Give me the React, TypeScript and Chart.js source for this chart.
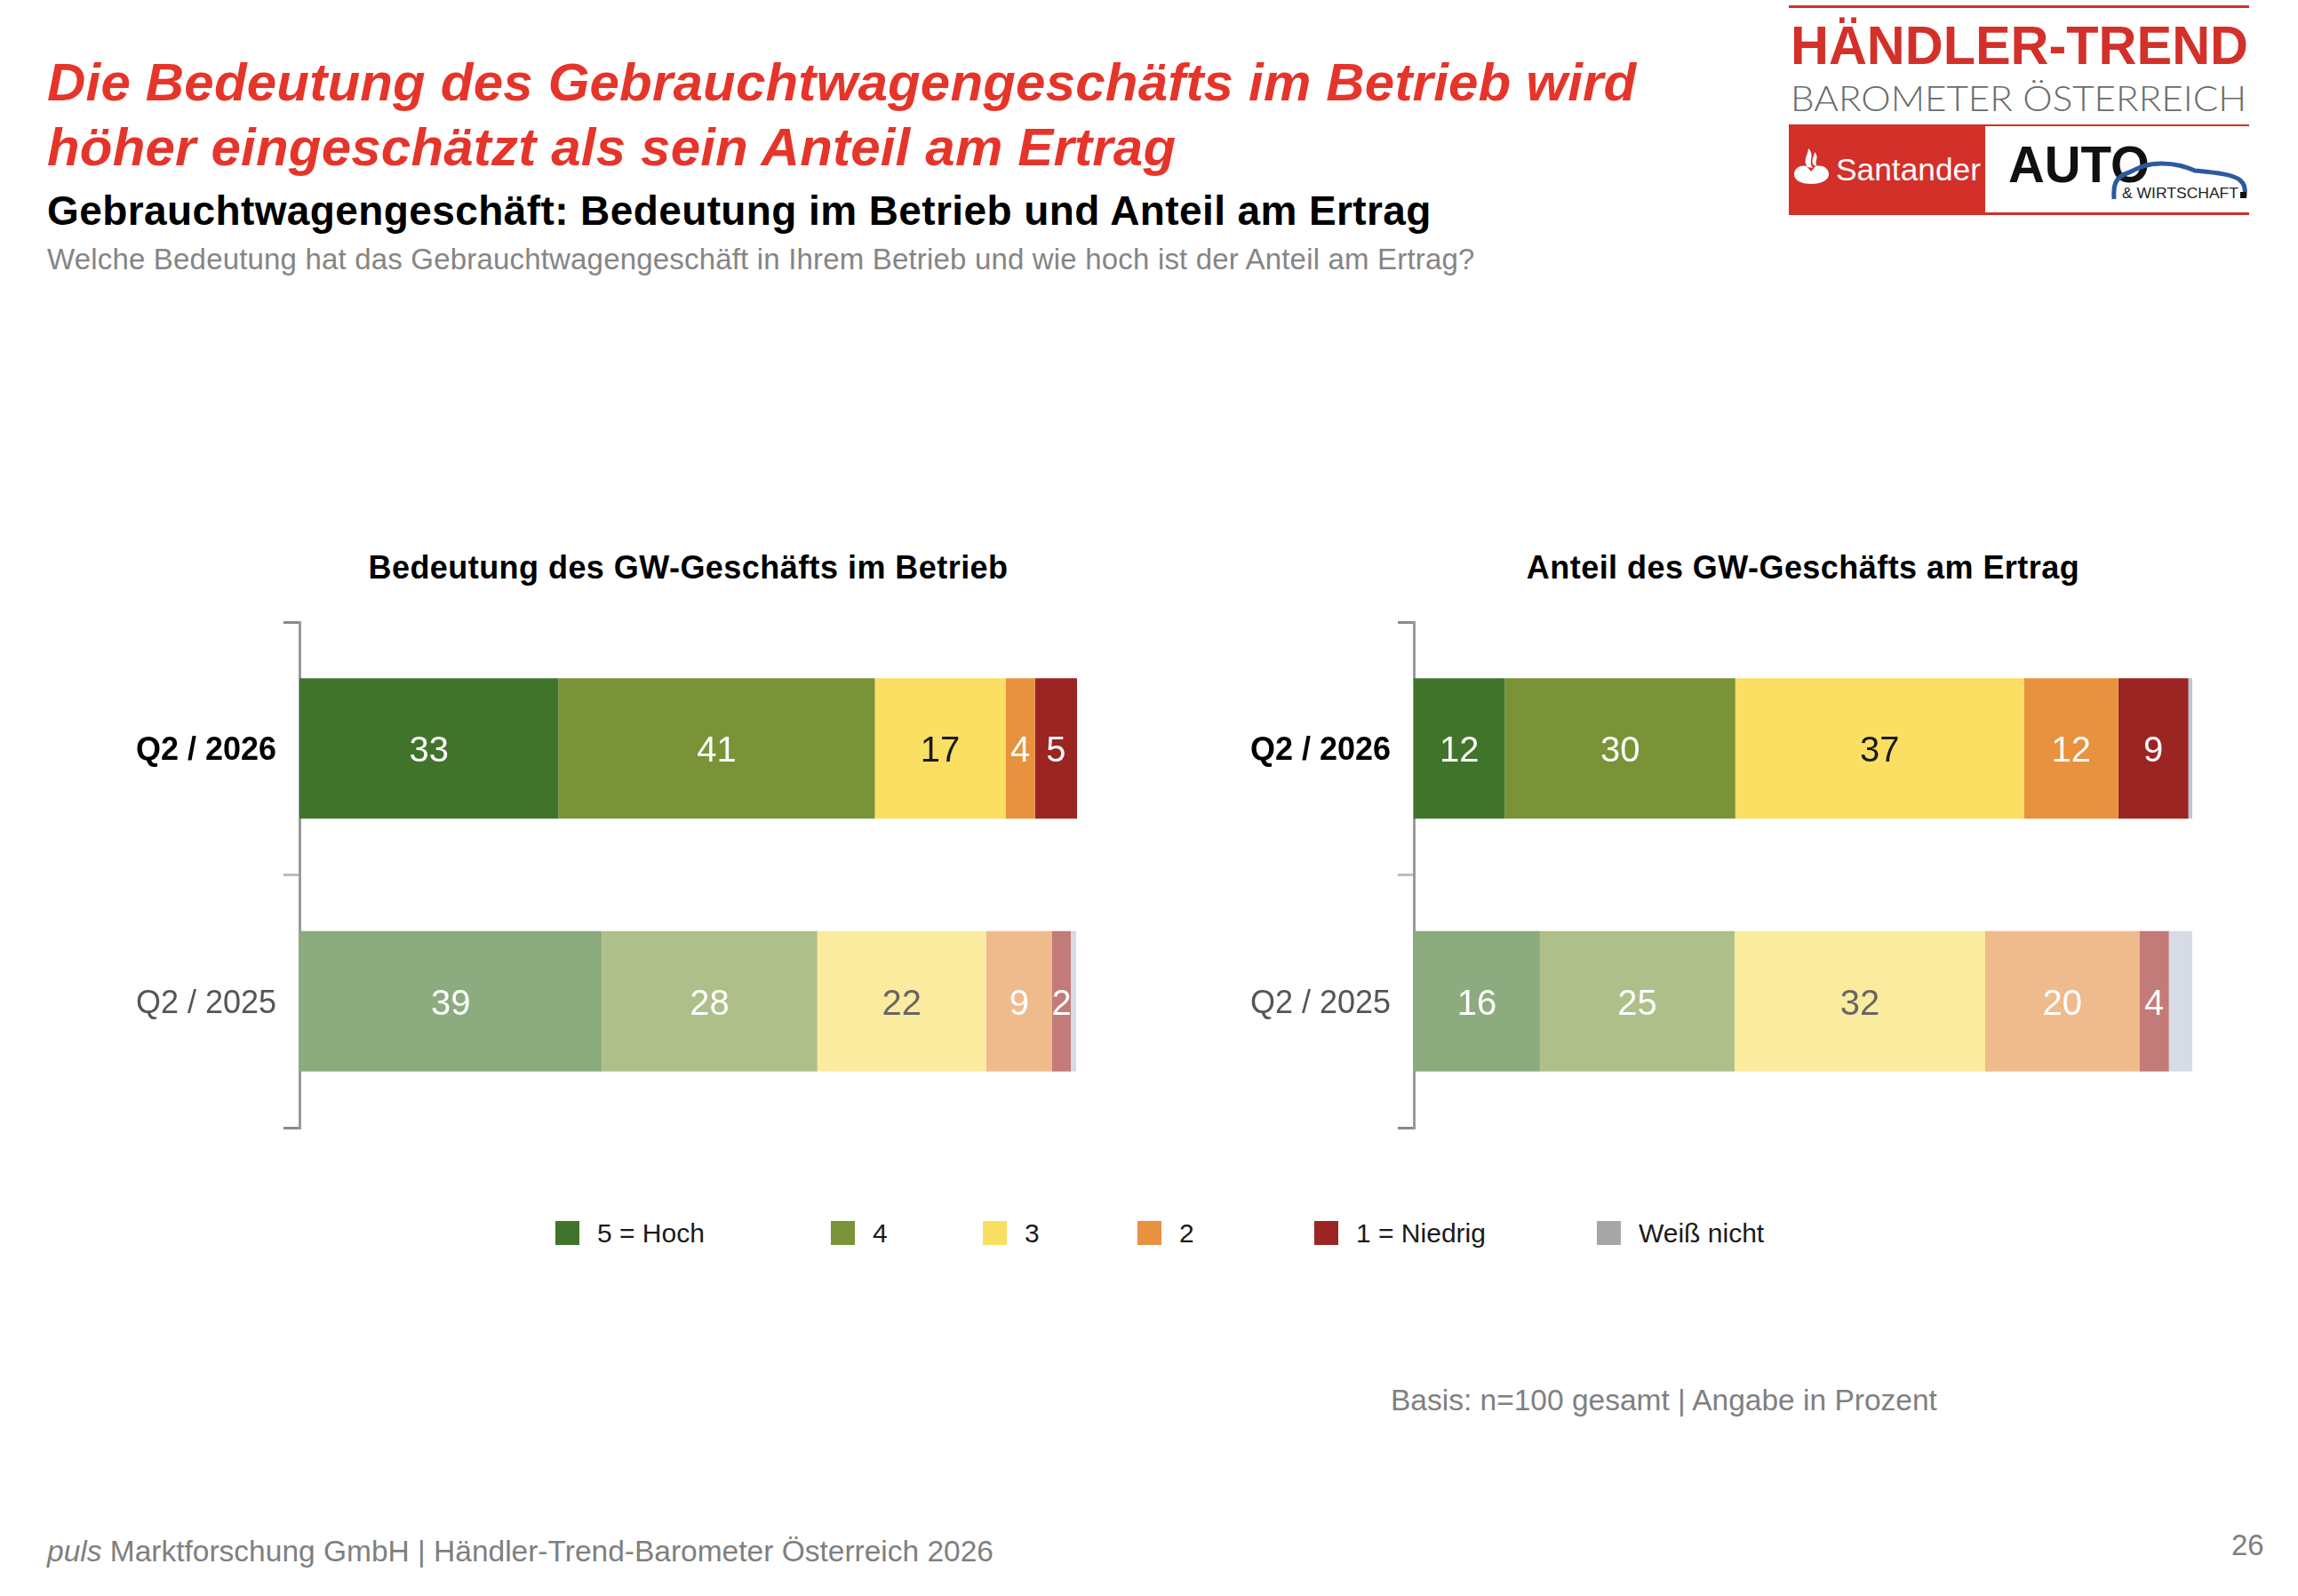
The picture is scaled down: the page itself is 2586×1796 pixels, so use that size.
import { useEffect, useRef } from 'react';
import { Chart, registerables } from 'chart.js';

Chart.register(...registerables);

const FONT = 'Arial, "Liberation Sans", Helvetica, sans-serif';

// categories and answer scale
const periods = ['Q2 / 2026', 'Q2 / 2025'];
const answers = ['5 = Hoch', '4', '3', '2', '1 = Niedrig', 'Weiß nicht'];

// Bedeutung des GW-Geschäfts im Betrieb (in %, order as answers)
const betrieb2026 = [33.3, 40.7, 16.8, 3.8, 5.4, 0];
const betrieb2025 = [38.9, 27.7, 21.7, 8.5, 2.4, 0.7];

// Anteil des GW-Geschäfts am Ertrag (in %)
const ertrag2026 = [11.7, 29.6, 37.1, 12.1, 9.0, 0.5];
const ertrag2025 = [16.2, 25.0, 32.2, 19.8, 3.8, 3.0];

// colours: current wave saturated, previous wave faded
const colors2026 = ['#41742b', '#7b9337', '#fadf63', '#e8913f', '#9b2522', '#bcc6db'];
const colors2025 = ['#8cab7e', '#afbf89', '#fbeb9f', '#efbb8c', '#c37b79', '#d6dbe6'];
const legendColors = ['#41742b', '#7b9337', '#fadf63', '#e8913f', '#9b2522', '#a6a6a6'];
const valueColors2026 = ['#ffffff', '#ffffff', '#1a1a1a', '#ffffff', '#ffffff', '#ffffff'];
const valueColors2025 = ['#ffffff', '#ffffff', '#666666', '#ffffff', '#ffffff', '#ffffff'];
const legendX = [625, 935, 1106, 1280, 1479, 1797];

// draws the rounded value in the middle of every segment
const segmentLabels = {
  id: 'segmentLabels',
  afterDatasetsDraw(chart: any) {
    const { ctx } = chart;
    ctx.save();
    ctx.font = `40px ${FONT}`;
    ctx.textAlign = 'center';
    ctx.textBaseline = 'middle';
    chart.data.datasets.forEach((ds: any, di: number) => {
      if (di === answers.length - 1) return; // no label for "Weiß nicht"
      chart.getDatasetMeta(di).data.forEach((bar: any, i: number) => {
        const v = ds.data[i];
        if (!v) return;
        ctx.fillStyle = ds.valueColors[i];
        ctx.fillText(String(Math.round(v)), (bar.x + bar.base) / 2, bar.y + 4);
      });
    });
    ctx.restore();
  },
};

interface PanelProps {
  left: number;
  axisX: number;
  endX: number;
  title: string;
  current: number[];
  previous: number[];
}

// plot area runs from y=700 to y=1269; 40px padding keeps the axis label padding out of it
const CANVAS_TOP = 660;
const CANVAS_H = 649;

function StackedPanel({ left, axisX, endX, title, current, previous }: PanelProps) {
  const canvasRef = useRef<HTMLCanvasElement>(null);
  const width = endX - left + 22;

  useEffect(() => {
    if (!canvasRef.current) return;
    const chart = new Chart(canvasRef.current, {
      type: 'bar',
      data: {
        labels: periods,
        datasets: answers.map((label, i) => ({
          label,
          data: [current[i], previous[i]],
          backgroundColor: [colors2026[i], colors2025[i]],
          valueColors: [valueColors2026[i], valueColors2025[i]],
          borderWidth: 0,
          barPercentage: 0.555,
          categoryPercentage: 1,
        })) as any,
      },
      options: {
        indexAxis: 'y',
        animation: false,
        responsive: false,
        devicePixelRatio: 1,
        layout: { padding: { top: 40, bottom: 40, left: 0, right: 22 } },
        plugins: {
          legend: { display: false },
          tooltip: { enabled: false },
        },
        scales: {
          x: { stacked: true, min: 0, max: 100, display: false },
          y: {
            stacked: true,
            offset: true,
            afterFit: (scale: any) => {
              scale.width = axisX - left;
            },
            grid: {
              offset: true,
              drawOnChartArea: false,
              tickLength: 18,
              lineWidth: 3,
              color: (ctx: any) => (ctx.index === 1 ? '#bdbdbd' : '#8a8a8a'),
            },
            border: { display: true, color: '#9a9a9a', width: 3 },
            ticks: {
              padding: 8,
              labelOffset: 3,
              font: (ctx: any) => ({
                family: FONT,
                size: 36,
                weight: ctx.index === 0 ? 'bold' : 'normal',
              }),
              color: (ctx: any) => (ctx.index === 0 ? '#000000' : '#555555'),
            },
          },
        },
      },
      plugins: [segmentLabels],
    });
    return () => chart.destroy();
  }, [left, axisX, current, previous]);

  return (
    <>
      <div
        style={{
          position: 'absolute',
          left: axisX,
          width: endX - axisX,
          top: 621,
          textAlign: 'center',
          fontFamily: FONT,
          fontWeight: 'bold',
          fontSize: 36,
          letterSpacing: '0.45px',
          lineHeight: 1,
          color: '#000',
          whiteSpace: 'nowrap',
        }}
      >
        {title}
      </div>
      <canvas
        ref={canvasRef}
        width={width}
        height={CANVAS_H}
        style={{ position: 'absolute', left, top: CANVAS_TOP, width, height: CANVAS_H }}
      />
    </>
  );
}

function Logo() {
  const red = '#d3302a';
  return (
    <svg
      style={{ position: 'absolute', left: 1990, top: 0 }}
      width={596}
      height={260}
      viewBox="1990 0 596 260"
    >
      <rect x={2013} y={6} width={518} height={3} fill={red} />
      <text
        x={2015}
        y={72}
        fontFamily={FONT}
        fontWeight="bold"
        fontSize={62}
        fill={red}
        textLength={515}
        lengthAdjust="spacingAndGlyphs"
      >
        HÄNDLER-TREND
      </text>
      <text
        x={2015}
        y={125}
        fontFamily='Lato, "Noto Sans", sans-serif'
        fontWeight={300}
        fontSize={39}
        fill="#6b6b6b"
        textLength={513}
        lengthAdjust="spacingAndGlyphs"
      >
        BAROMETER ÖSTERREICH
      </text>
      <rect x={2013} y={140} width={518} height={2} fill={red} />
      <rect x={2013} y={142} width={221} height={98} fill={red} />
      <rect x={2013} y={239} width={518} height={3} fill={red} />
      {/* Santander flame */}
      <path
        d="M2019 196 C2019 188 2028 185 2033 187 L2038 193 L2043 187 C2049 185 2058 188 2058 196 C2058 204 2047 207 2038 207 C2029 207 2019 204 2019 196 Z"
        fill="#fff"
      />
      <path d="M2034 188 C2028 180 2035 174 2035 167 C2043 175 2034 181 2040 189 Z" fill="#fff" />
      <path d="M2041 186 C2037 180 2042 176 2042 171 C2048 178 2041 181 2045 187 Z" fill="#fff" />
      <text
        x={2066}
        y={203}
        fontFamily={FONT}
        fontSize={35}
        fill="#fff"
        textLength={163}
        lengthAdjust="spacingAndGlyphs"
      >
        Santander
      </text>
      <text
        x={2260}
        y={205}
        fontFamily={FONT}
        fontWeight={900}
        fontSize={58}
        fill="#111"
        textLength={159}
        lengthAdjust="spacingAndGlyphs"
      >
        AUTO
      </text>
      <path
        d="M2379 224 C2378 208 2380 199 2396 194 C2406 189 2416 184 2432 184 C2450 184 2460 188 2470 192 C2490 194 2514 196 2521 203 C2527 208 2527 214 2526 220"
        fill="none"
        stroke="#2c5aa0"
        strokeWidth={5}
      />
      <text
        x={2388}
        y={223}
        fontFamily={FONT}
        fontSize={17}
        fill="#222"
        textLength={131}
        lengthAdjust="spacingAndGlyphs"
      >
        &amp; WIRTSCHAFT
      </text>
      <rect x={2521} y={216} width={7} height={7} fill="#111" />
    </svg>
  );
}

export default function App() {
  useEffect(() => {
    document.body.style.margin = '0';
  }, []);

  const text = (extra: React.CSSProperties): React.CSSProperties => ({
    position: 'absolute',
    fontFamily: FONT,
    lineHeight: 1,
    whiteSpace: 'nowrap',
    ...extra,
  });

  return (
    <div
      style={{
        position: 'relative',
        width: 2586,
        height: 1796,
        background: '#fff',
        overflow: 'hidden',
      }}
    >
      <div
        style={text({
          left: 53,
          top: 56,
          fontSize: 60,
          letterSpacing: '0.2px',
          lineHeight: '73px',
          fontWeight: 'bold',
          fontStyle: 'italic',
          color: '#e5352a',
        })}
      >
        Die Bedeutung des Gebrauchtwagengeschäfts im Betrieb wird
        <br />
        höher eingeschätzt als sein Anteil am Ertrag
      </div>
      <div
        style={text({
          left: 53,
          top: 214,
          fontSize: 46,
          letterSpacing: '0.4px',
          fontWeight: 'bold',
          color: '#000',
        })}
      >
        Gebrauchtwagengeschäft: Bedeutung im Betrieb und Anteil am Ertrag
      </div>
      <div style={text({ left: 53, top: 275, fontSize: 33, letterSpacing: '0.18px', color: '#858585' })}>
        Welche Bedeutung hat das Gebrauchtwagengeschäft in Ihrem Betrieb und wie hoch ist der Anteil am Ertrag?
      </div>

      <Logo />

      <StackedPanel
        left={60}
        axisX={337}
        endX={1212}
        title="Bedeutung des GW-Geschäfts im Betrieb"
        current={betrieb2026}
        previous={betrieb2025}
      />
      <StackedPanel
        left={1320}
        axisX={1591}
        endX={2467}
        title="Anteil des GW-Geschäfts am Ertrag"
        current={ertrag2026}
        previous={ertrag2025}
      />

      {answers.map((label, i) => (
        <div key={label}>
          <div
            style={{
              position: 'absolute',
              left: legendX[i],
              top: 1374,
              width: 27,
              height: 27,
              background: legendColors[i],
            }}
          />
          <div style={text({ left: legendX[i] + 47, top: 1373, fontSize: 30, color: '#1a1a1a' })}>
            {label}
          </div>
        </div>
      ))}

      <div style={text({ left: 1565, top: 1559, fontSize: 33.5, color: '#808080' })}>
        Basis: n=100 gesamt | Angabe in Prozent
      </div>
      <div style={text({ left: 53, top: 1729, fontSize: 33.5, color: '#7f7f7f' })}>
        <i>puls</i> Marktforschung GmbH | Händler-Trend-Barometer Österreich 2026
      </div>
      <div style={text({ left: 2511, top: 1722, fontSize: 33, color: '#7f7f7f' })}>26</div>
    </div>
  );
}
